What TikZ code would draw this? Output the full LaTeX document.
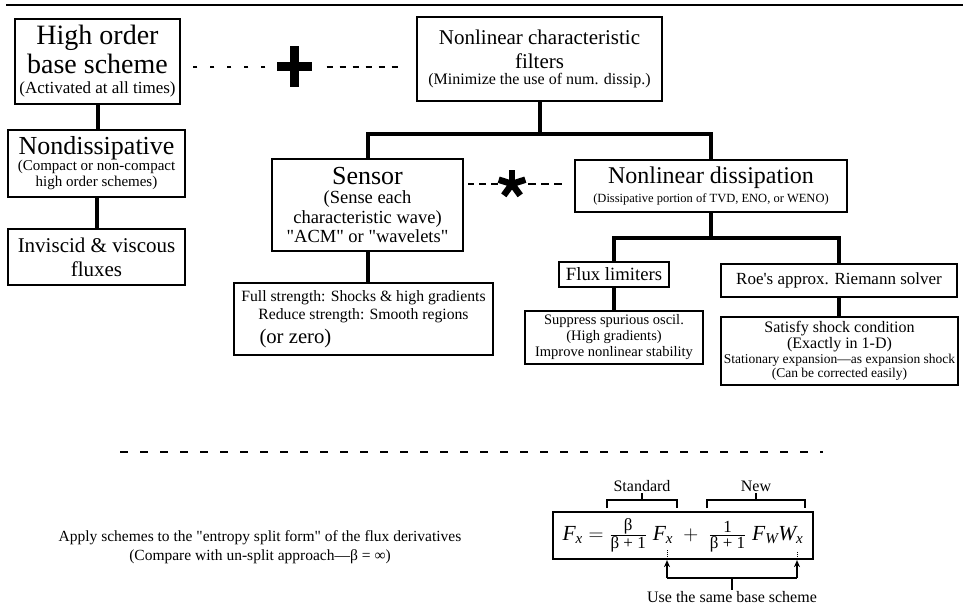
\documentclass[tikz,border=0pt]{standalone}
\usepackage{fontspec}
\setmainfont{Liberation Serif}[Ligatures=TeXOff]
\usepackage{amsmath}
\usetikzlibrary{arrows.meta,calc}

\newcommand{\txtsize}[2]{\fontsize{#1}{#2}\selectfont}
\newcommand{\eqsmall}[1]{\text{\txtsize{17}{17}#1}}

\tikzset{
  box/.style={draw, line width=1.8pt, align=center, inner sep=1pt},
  link/.style={line width=4pt},
  dashlink/.style={line width=2pt, dash pattern=on 5pt off 8pt},
  brk/.style={line width=1.6pt},
  lbl/.style={inner sep=1pt, font=\txtsize{16}{18}},
}

\begin{document}
\begin{tikzpicture}[x=1pt, y=-1pt]
\useasboundingbox (0,0) rectangle (963,614);
\draw[line width=2.8pt] (6,5) -- (963,5);

% base scheme column
\node[box, minimum width=165, minimum height=85, font=\txtsize{28}{29}] (base) at (97.5,61.5) {High order\\ base scheme\\[-9pt] {\txtsize{17}{20}(Activated at all times)}};
\node[box, minimum width=177, minimum height=67, font=\txtsize{15}{16}] (nondiss) at (96.5,163.5) {{\txtsize{26}{28}Nondissipative}\\ (Compact or non-compact\\ high order schemes)};
\node[box, minimum width=177, minimum height=56, font=\txtsize{21}{24}] (fluxes) at (96.5,257) {Inviscid \& viscous\\ fluxes};
\draw[link] (base.south) -- (base.south |- nondiss.north);
\draw[link] (nondiss.south) -- (nondiss.south |- fluxes.north);

% filters
\node[box, minimum width=245, minimum height=84, font=\txtsize{21}{24}] (filters) at (539.5,59) {Nonlinear characteristic\\ filters\\[-8pt] {\txtsize{16}{18}(Minimize the use of num. dissip.)}};
\node[box, minimum width=191, minimum height=92, font=\txtsize{18.5}{19.5}] (sensor) at (367.5,205) {{\txtsize{26}{28}Sensor}\\ (Sense each\\ characteristic wave)\\ "ACM" or "wavelets"};
\node[box, minimum width=272, minimum height=52, font=\txtsize{24}{26}] (dissip) at (711,186) {Nonlinear dissipation\\[-7pt] {\txtsize{12.5}{14}(Dissipative portion of TVD, ENO, or WENO)}};
\node[box, minimum width=259, minimum height=72, font=\txtsize{15.7}{18}] (detail) at (363.5,319) {Full strength: Shocks \& high gradients\\ Reduce strength: Smooth regions\\[6pt] \makebox[208pt][l]{\txtsize{20.7}{22}(or zero)}};
\node[box, minimum width=110, minimum height=25, font=\txtsize{18.7}{20}] (limiter) at (614,274.5) {Flux limiters};
\node[box, minimum width=236, minimum height=33, font=\txtsize{17}{19}] (roe) at (839,280.5) {Roe's approx. Riemann solver};
\node[box, minimum width=178, minimum height=53, font=\txtsize{14.5}{16}] (suppress) at (614,337.5) {Suppress spurious oscil.\\ (High gradients)\\ Improve nonlinear stability};
\node[box, minimum width=237, minimum height=68, font=\txtsize{16}{16}] (satisfy) at (839.5,351) {Satisfy shock condition\\ (Exactly in 1-D)\\[-1pt] {\txtsize{13.5}{14}Stationary expansion—as expansion shock}\\[-2pt] {\txtsize{13.5}{14}(Can be corrected easily)}};

\draw[link] (filters.south) -- ++(0,32) coordinate (fsplit) -| (sensor.north);
\draw[link] (fsplit) -| (dissip.north);
\draw[link] (sensor.south) -- (sensor.south |- detail.north);
\draw[link] (dissip.south) -- ++(0,25) coordinate (dsplit) -| (limiter.north);
\draw[link] (dsplit) -| (roe.north);
\draw[link] (limiter.south) -- (suppress.north);
\draw[link] (roe.south) -- (roe.south |- satisfy.north);

% plus and star ties
\node[minimum width=34, minimum height=40, inner sep=0] (plus) at (294.5,66.5) {};
\draw[line width=9pt] (plus.west) -- (plus.east) (plus.north) -- (plus.south);
\draw[dashlink, dash pattern=on 4pt off 13pt, shorten <=12pt, shorten >=10pt] (plus.west) -- (plus.west -| base.east);
\draw[dashlink, dash pattern=on 6pt off 7pt, shorten <=15pt, shorten >=17pt] (plus.east) -- (plus.east -| filters.west);

\node[minimum size=28, inner sep=0] (star) at (512,184) {};
\foreach \ang in {270,342,54,126,198}
  \draw[line width=6.5pt] (star.center) -- ++(\ang:14);
\draw[dashlink, dash pattern=on 7pt off 5pt, shorten <=0pt, shorten >=4pt] (star.west) -- (star.west -| sensor.east);
\draw[dashlink, dash pattern=on 8pt off 5pt, shorten <=2pt, shorten >=8pt] (star.east) -- (star.east -| dissip.west);

% separator
\coordinate (sepL) at (120,452);
\coordinate (sepR) at (823,452);
\draw[line width=2.2pt, dash pattern=on 8pt off 12pt] (sepL) -- (sepR);

% entropy split form
\node[align=center, inner sep=1pt, font=\txtsize{15.5}{19}] (apply) at (260,547) {Apply schemes to the "entropy split form" of the flux derivatives\\ (Compare with un-split approach—β = ∞)};

\node[box, line width=2.2pt, minimum width=260, minimum height=47, font=\txtsize{21.5}{24}] (eqn) at (683,535.5) {$\textit{F}_{\textit{x}} = \frac{\eqsmall{β}}{\eqsmall{β + 1}}\;\textit{F}_{\textit{x}} \;+\; \frac{\eqsmall{1}}{\eqsmall{β + 1}}\;\textit{F}_{\textit{W}}\textit{W}_{\textit{x}}$};

\node[lbl] (std) at (642,486) {Standard};
\node[lbl] (new) at (756,486) {New};
\coordinate (stdL) at (607,508);
\coordinate (stdR) at (677,508);
\coordinate (newL) at (707,508);
\coordinate (newR) at (805,508);
\draw[brk] (stdL) -- ++(0,-8) -| (stdR);
\draw[brk] (newL) -- ++(0,-8) -| (newR);
\draw[brk] ($(stdL)!0.5!(stdR)+(0,-8)$) -- (std.south);
\draw[brk] ($(newL)!0.5!(newR)+(0,-8)$) -- (new.south);

\coordinate (useL) at (667,578);
\coordinate (useR) at (797,578);
\node[lbl] (same) at (732,597) {Use the same base scheme};
\draw[brk, -{Stealth[length=7pt, width=6pt]}] (useL) -- (useL |- eqn.south);
\draw[brk, -{Stealth[length=7pt, width=6pt]}] (useR) -- (useR |- eqn.south);
\draw[brk] (useL) -- (useR);
\draw[brk] (same.north |- useL) -- (same.north);
\draw[densely dotted, line width=0.8pt] (useL |- eqn.south) -- ++(0,-10);
\draw[densely dotted, line width=0.8pt] (useR |- eqn.south) -- ++(0,-8);
\end{tikzpicture}
\end{document}
